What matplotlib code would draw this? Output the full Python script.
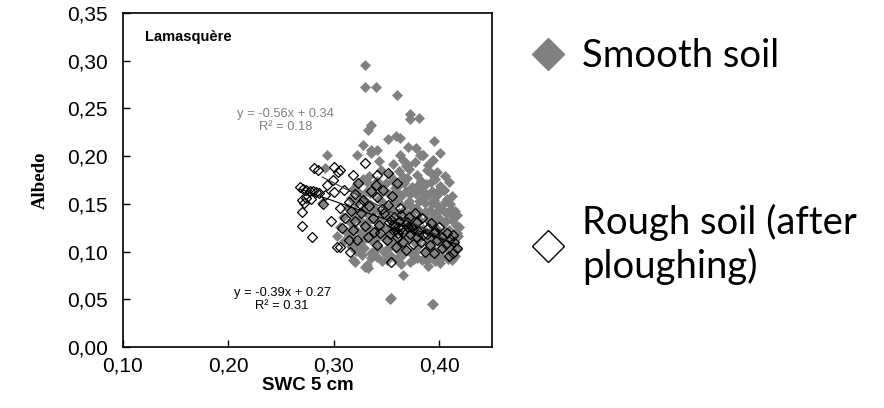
import numpy as np
import matplotlib
matplotlib.use('Agg')
import matplotlib.pyplot as plt
from matplotlib.lines import Line2D
from matplotlib.ticker import FuncFormatter

# Smooth soil (filled grey diamonds): SWC 5 cm, albedo
smooth_x = [0.330, 0.330, 0.340, 0.360, 0.372, 0.372, 0.381, 0.335, 0.332, 0.359,
            0.363, 0.395, 0.351, 0.328, 0.335, 0.341, 0.370, 0.378, 0.385, 0.394,
            0.294, 0.370, 0.403, 0.411, 0.382, 0.392, 0.404, 0.408, 0.289, 0.332,
            0.366, 0.354, 0.394, 0.353, 0.393, 0.320, 0.330, 0.292, 0.322, 0.335,
            0.363, 0.366, 0.384, 0.401,
            0.345, 0.362, 0.371, 0.388, 0.398,
            0.333, 0.352, 0.366, 0.379, 0.392, 0.405,
            0.328, 0.341, 0.357, 0.369, 0.383, 0.396, 0.409,
            0.322, 0.338, 0.349, 0.362, 0.374, 0.387, 0.401,
            0.318, 0.331, 0.346, 0.358, 0.368, 0.381, 0.393, 0.404,
            0.325, 0.337, 0.352, 0.364, 0.377, 0.389, 0.399, 0.412,
            0.316, 0.329, 0.343, 0.356, 0.371, 0.383, 0.395, 0.407,
            0.321, 0.334, 0.348, 0.361, 0.373, 0.386, 0.398, 0.410,
            0.313, 0.327, 0.339, 0.353, 0.366, 0.378, 0.391, 0.403, 0.415,
            0.319, 0.331, 0.345, 0.358, 0.370, 0.382, 0.394, 0.406, 0.417,
            0.309, 0.324, 0.336, 0.350, 0.363, 0.375, 0.388, 0.400, 0.412,
            0.315, 0.328, 0.342, 0.355, 0.368, 0.380, 0.392, 0.404, 0.416,
            0.306, 0.320, 0.333, 0.347, 0.360, 0.372, 0.385, 0.397, 0.409, 0.419,
            0.312, 0.326, 0.339, 0.352, 0.365, 0.377, 0.390, 0.402, 0.414,
            0.303, 0.318, 0.331, 0.344, 0.357, 0.370, 0.382, 0.395, 0.407, 0.418,
            0.310, 0.323, 0.337, 0.349, 0.362, 0.375, 0.388, 0.400, 0.412,
            0.316, 0.329, 0.342, 0.355, 0.367, 0.380, 0.393, 0.405, 0.417,
            0.321, 0.335, 0.348, 0.361, 0.373, 0.386, 0.398, 0.410,
            0.327, 0.341, 0.354, 0.366, 0.379, 0.391, 0.403, 0.415,
            0.318, 0.346, 0.359, 0.372, 0.384, 0.396, 0.408,
            0.331, 0.364, 0.389, 0.401,
            0.343, 0.356, 0.368, 0.377, 0.389,
            0.331, 0.344, 0.356, 0.367, 0.380, 0.392,
            0.322, 0.334, 0.347, 0.360, 0.372, 0.385, 0.397,
            0.319, 0.331, 0.344, 0.357, 0.369, 0.381, 0.393, 0.405,
            0.316, 0.326, 0.338, 0.350, 0.362, 0.374, 0.386, 0.398, 0.410,
            0.318, 0.331, 0.344, 0.357, 0.369, 0.381, 0.394, 0.406,
            0.316, 0.329, 0.342, 0.355, 0.367, 0.380, 0.393, 0.405, 0.417,
            0.314, 0.327, 0.340, 0.353, 0.366, 0.379, 0.391, 0.403, 0.414,
            0.325, 0.338, 0.351, 0.364, 0.377, 0.390, 0.402, 0.413,
            0.335, 0.350, 0.363, 0.376, 0.388, 0.400, 0.412]
smooth_y = [0.296, 0.273, 0.273, 0.264, 0.244, 0.239, 0.240, 0.233, 0.227, 0.221,
            0.219, 0.216, 0.218, 0.212, 0.206, 0.206, 0.210, 0.209, 0.201, 0.196,
            0.201, 0.191, 0.167, 0.145, 0.201, 0.194, 0.165, 0.142, 0.151, 0.083,
            0.075, 0.051, 0.045, 0.050, 0.045, 0.089, 0.084, 0.188, 0.201, 0.203,
            0.201, 0.196, 0.201, 0.203,
            0.186, 0.184, 0.187, 0.185, 0.183,
            0.179, 0.181, 0.178, 0.180, 0.182, 0.179,
            0.176, 0.174, 0.175, 0.177, 0.174, 0.176, 0.173,
            0.171, 0.169, 0.172, 0.170, 0.168, 0.171, 0.169,
            0.166, 0.164, 0.165, 0.167, 0.163, 0.166, 0.164, 0.165,
            0.159, 0.161, 0.160, 0.158, 0.161, 0.159, 0.160, 0.158,
            0.156, 0.154, 0.155, 0.157, 0.153, 0.156, 0.154, 0.155,
            0.151, 0.149, 0.150, 0.152, 0.148, 0.151, 0.149, 0.150,
            0.146, 0.144, 0.145, 0.147, 0.143, 0.146, 0.144, 0.145, 0.143,
            0.141, 0.139, 0.140, 0.142, 0.138, 0.141, 0.139, 0.140, 0.138,
            0.136, 0.134, 0.135, 0.137, 0.133, 0.136, 0.134, 0.135, 0.133,
            0.131, 0.129, 0.130, 0.132, 0.128, 0.131, 0.129, 0.130, 0.128,
            0.126, 0.124, 0.125, 0.127, 0.123, 0.126, 0.124, 0.125, 0.123, 0.126,
            0.121, 0.119, 0.120, 0.122, 0.118, 0.121, 0.119, 0.120, 0.118,
            0.116, 0.114, 0.115, 0.117, 0.113, 0.116, 0.114, 0.115, 0.113, 0.116,
            0.111, 0.109, 0.110, 0.112, 0.108, 0.111, 0.109, 0.110, 0.108,
            0.106, 0.104, 0.105, 0.107, 0.103, 0.106, 0.104, 0.105, 0.103,
            0.101, 0.099, 0.100, 0.102, 0.098, 0.101, 0.099, 0.100,
            0.096, 0.094, 0.095, 0.097, 0.093, 0.096, 0.094, 0.095,
            0.091, 0.090, 0.092, 0.089, 0.091, 0.090, 0.092,
            0.086, 0.087, 0.085, 0.088,
            0.195, 0.192, 0.190, 0.194, 0.191,
            0.173, 0.171, 0.174, 0.172, 0.170, 0.173,
            0.163, 0.161, 0.164, 0.162, 0.160, 0.163, 0.161,
            0.153, 0.151, 0.154, 0.152, 0.150, 0.153, 0.151, 0.152,
            0.143, 0.141, 0.144, 0.142, 0.140, 0.143, 0.141, 0.142, 0.140,
            0.133, 0.131, 0.134, 0.132, 0.130, 0.133, 0.131, 0.132,
            0.123, 0.121, 0.124, 0.122, 0.120, 0.123, 0.121, 0.122, 0.120,
            0.113, 0.111, 0.114, 0.112, 0.110, 0.113, 0.111, 0.112, 0.110,
            0.103, 0.101, 0.104, 0.102, 0.100, 0.103, 0.101, 0.102,
            0.093, 0.091, 0.094, 0.092, 0.090, 0.093, 0.091]

# Rough soil after ploughing (open diamonds)
rough_x = [0.268, 0.271, 0.274, 0.277, 0.280, 0.283, 0.286, 0.270, 0.272, 0.274,
           0.270, 0.270, 0.279, 0.278, 0.281, 0.285, 0.292, 0.297, 0.300, 0.304,
           0.299, 0.306, 0.314, 0.306, 0.308, 0.303, 0.311, 0.318, 0.314, 0.318,
           0.330, 0.341, 0.351, 0.360, 0.323, 0.335, 0.310, 0.328, 0.341, 0.351,
           0.363, 0.371, 0.337, 0.357, 0.361, 0.370, 0.379, 0.385, 0.395, 0.403,
           0.413, 0.414, 0.403, 0.395, 0.413, 0.354, 0.368, 0.359, 0.341, 0.332,
           0.322, 0.306, 0.315, 0.343, 0.360, 0.357, 0.344, 0.379, 0.389,
           0.348, 0.352, 0.356, 0.362, 0.366, 0.368, 0.372, 0.375, 0.364, 0.346,
           0.333, 0.326, 0.320, 0.330, 0.338, 0.350, 0.353, 0.366, 0.375, 0.383,
           0.391, 0.398, 0.407, 0.417, 0.409, 0.386, 0.377, 0.384, 0.392, 0.400,
           0.406, 0.320, 0.316, 0.325, 0.340, 0.347, 0.355, 0.294, 0.300, 0.290,
           0.358, 0.363, 0.369, 0.354, 0.361, 0.373, 0.380, 0.388, 0.396, 0.410]
rough_y = [0.168, 0.166, 0.165, 0.164, 0.163, 0.162, 0.161, 0.154, 0.151, 0.156,
           0.142, 0.127, 0.115, 0.155, 0.188, 0.186, 0.159, 0.132, 0.189, 0.183,
           0.175, 0.186, 0.152, 0.146, 0.125, 0.105, 0.135, 0.123, 0.112, 0.180,
           0.193, 0.180, 0.182, 0.172, 0.172, 0.163, 0.165, 0.154, 0.157, 0.149,
           0.146, 0.136, 0.135, 0.136, 0.126, 0.126, 0.115, 0.117, 0.119, 0.115,
           0.117, 0.110, 0.104, 0.098, 0.098, 0.089, 0.102, 0.105, 0.107, 0.115,
           0.112, 0.105, 0.100, 0.128, 0.115, 0.122, 0.119, 0.131, 0.125,
           0.140, 0.131, 0.128, 0.132, 0.121, 0.129, 0.118, 0.124, 0.138, 0.145,
           0.148, 0.140, 0.132, 0.127, 0.121, 0.112, 0.118, 0.110, 0.108, 0.110,
           0.107, 0.112, 0.120, 0.104, 0.095, 0.100, 0.140, 0.135, 0.130, 0.126,
           0.108, 0.160, 0.143, 0.150, 0.170, 0.165, 0.158, 0.170, 0.162, 0.150,
           0.127, 0.124, 0.131, 0.133, 0.120, 0.127, 0.122, 0.118, 0.122, 0.113]

# trendlines as printed on the chart
smooth_fit = (-0.56, 0.34)
rough_fit = (-0.39, 0.27)

grey = '#808080'

fig = plt.figure(figsize=(8.84, 4.08), dpi=100)
ax = fig.add_axes([0.139, 0.1495, 0.4176, 0.8185])

ax.plot(smooth_x, smooth_y, linestyle='none', marker='D', markersize=4.6,
        markerfacecolor=grey, markeredgecolor=grey, markeredgewidth=0.5)
ax.plot(rough_x, rough_y, linestyle='none', marker='D', markersize=5,
        markerfacecolor='none', markeredgecolor='black', markeredgewidth=0.9)

xs = np.array([min(smooth_x), max(smooth_x)])
ax.plot(xs, smooth_fit[0] * xs + smooth_fit[1], color='#333333', lw=0.8)
xr = np.array([min(rough_x), max(rough_x)])
ax.plot(xr, rough_fit[0] * xr + rough_fit[1], color='black', lw=0.8)

ax.set_xlim(0.10, 0.45)
ax.set_ylim(0.0, 0.35)
ax.set_xticks([0.10, 0.20, 0.30, 0.40])
ax.set_yticks(np.arange(0, 0.351, 0.05))
comma = FuncFormatter(lambda v, p: ('%.2f' % v).replace('.', ','))
ax.xaxis.set_major_formatter(comma)
ax.yaxis.set_major_formatter(comma)
ax.tick_params(direction='in', length=5, width=1, labelsize=15)
ax.tick_params(axis='y', pad=11)
ax.tick_params(axis='x', pad=7)
for lab in ax.get_xticklabels() + ax.get_yticklabels():
    lab.set_fontfamily('Liberation Sans')
for s in ax.spines.values():
    s.set_linewidth(1.2)

ax.set_xlabel('SWC 5 cm', fontsize=13.5, fontweight='bold', family='Liberation Sans', labelpad=1)
ax.set_ylabel('Albedo', fontsize=13.5, fontweight='bold', family='Liberation Serif', labelpad=13)

ax.text(0.06, 0.928, 'Lamasquère', transform=ax.transAxes, fontsize=10.5,
        fontweight='bold', family='Liberation Sans', va='center')
ax.text(0.254, 0.237, 'y = -0.56x + 0.34\nR² = 0.18', fontsize=9.3, color=grey,
        family='Liberation Sans', ha='center', va='center', linespacing=1.1)
ax.text(0.251, 0.0495, 'y = -0.39x + 0.27\nR² = 0.31', fontsize=9.3, color='black',
        family='Liberation Sans', ha='center', va='center', linespacing=1.1)

handles = [Line2D([], [], linestyle='none', marker='D', markersize=16,
                  markerfacecolor=grey, markeredgecolor=grey),
           Line2D([], [], linestyle='none', marker='D', markersize=16,
                  markerfacecolor='none', markeredgecolor='black', markeredgewidth=1)]
fig.legend(handles, ['Smooth soil', 'Rough soil (after\nploughing)'],
           loc='upper left', bbox_to_anchor=(0.555, 0.99), frameon=False,
           prop={'family': 'Lato', 'size': 27.5}, labelspacing=3.4,
           handletextpad=0.3, handlelength=1.2)

fig.savefig('out.png', dpi=100)
